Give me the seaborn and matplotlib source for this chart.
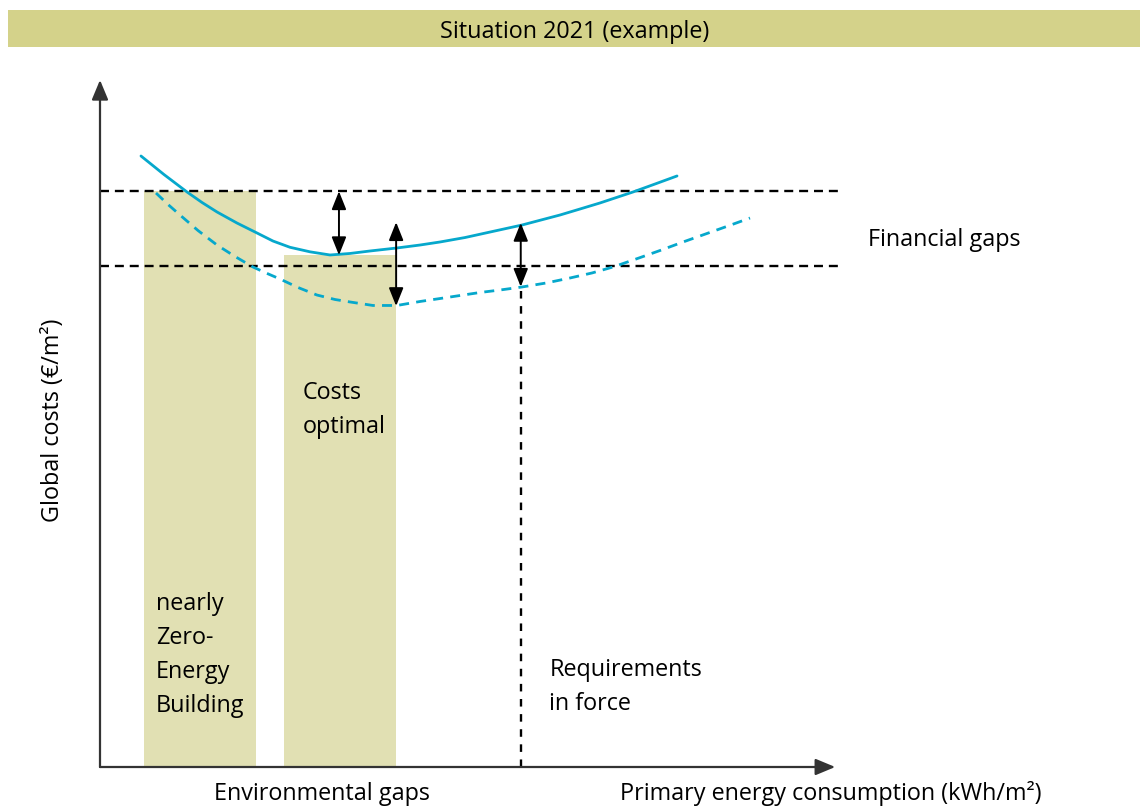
import numpy as np
import pandas as pd
import matplotlib
matplotlib.use('Agg')
import matplotlib.pyplot as plt
from matplotlib.patches import Rectangle
import seaborn as sns

# Cost-optimal vs nZEB schematic, situation 2021

# x = primary energy consumption, y = global costs (arbitrary units, 0-100)
solid_x = [5.59, 8.73, 11.87, 13.92, 15.96, 18.69, 21.42, 23.60, 25.92, 28.65, 31.38, 34.11, 36.83,
           40.52, 43.66, 46.38, 49.80, 53.21, 57.57, 62.76, 65.48, 68.21, 72.72, 75.72, 78.72]
solid_y = [88.94, 86.24, 83.70, 82.17, 80.79, 79.18, 77.73, 76.56, 75.65, 74.99, 74.53, 74.75, 75.11,
           75.55, 75.98, 76.42, 77.07, 77.87, 78.89, 80.35, 81.22, 82.10, 83.70, 84.86, 86.03]

dashed_x = [7.64, 9.28, 10.91, 13.37, 15.96, 18.42, 20.87, 22.65, 24.56, 27.01, 29.60, 32.06, 34.11,
            37.24, 40.52, 43.66, 46.38, 49.11, 51.84, 54.57, 57.57, 60.85, 64.12, 67.12, 69.99,
            73.12, 76.40, 79.54, 82.81, 85.68, 88.68]
dashed_y = [83.55, 81.88, 80.35, 78.09, 75.98, 74.31, 72.78, 71.91, 71.03, 69.80, 68.70, 68.05, 67.69,
            67.18, 67.18, 67.76, 68.19, 68.63, 69.07, 69.43, 69.87, 70.45, 71.18, 71.91, 72.78,
            73.94, 75.18, 76.42, 77.66, 78.75, 79.91]

bar_left = [6.0, 25.1]
bar_width = [15.3, 15.3]
bar_top = [83.8, 74.5]
bar_labels = ['nearly\nZero-\nEnergy\nBuilding', 'Costs\noptimal']

gap_levels = [83.8, 72.9]          # horizontal dashed lines
gap_arrows_x = [32.6, 40.4, 57.4]
gap_arrows_top = [83.8, 79.3, 79.2]
gap_arrows_bottom = [74.5, 67.1, 69.9]
requirement_x = 57.4

title = 'Situation 2021 (example)'

sns.set_theme(style='white')
plt.rcParams['font.family'] = ['Open Sans', 'DejaVu Sans']
plt.rcParams['text.color'] = 'black'

cyan = '#06a8cc'
band = '#d4d28a'
barc = '#e1e0b3'
fs = 16.8
ls_text = 1.56

fig = plt.figure(figsize=(11.44, 8.07), dpi=100)
ax = fig.add_axes([0, 0, 1, 1])

# title band
ax.add_patch(Rectangle((-12.6, 104.8), 154.5, 5.4, color=band, lw=0, zorder=0))
ax.text(64.7, 107.0, title, ha='center', va='center', fontsize=fs)

# bars
ax.bar(bar_left, bar_top, width=bar_width, align='edge', color=barc, lw=0, zorder=1)

# gap levels
for lev in gap_levels:
    ax.plot([0, 101.2], [lev, lev], color='black', lw=1.7, ls=(0, (3.8, 2.5)), zorder=2)

# cost curves
df_s = pd.DataFrame({'x': solid_x, 'y': solid_y})
df_d = pd.DataFrame({'x': dashed_x, 'y': dashed_y})
sns.lineplot(data=df_s, x='x', y='y', ax=ax, color=cyan, lw=2.0, sort=False, zorder=3)
sns.lineplot(data=df_d, x='x', y='y', ax=ax, color=cyan, lw=2.0, sort=False, zorder=3,
             linestyle=(0, (3.6, 2.6)))

# requirements in force
ax.plot([requirement_x, requirement_x], [0, gap_arrows_bottom[2]], color='black', lw=1.7,
        ls=(0, (3.2, 3.2)), zorder=2)

# financial gap arrows
for gx, gt, gb in zip(gap_arrows_x, gap_arrows_top, gap_arrows_bottom):
    ax.annotate('', xy=(gx, gt), xytext=(gx, gb),
                arrowprops=dict(arrowstyle='<|-|>,head_length=0.55,head_width=0.22',
                                mutation_scale=20, lw=1.4, color='black',
                                shrinkA=0, shrinkB=0), zorder=4)

# axes arrows
ax.annotate('', xy=(0, 100), xytext=(0, 0),
            arrowprops=dict(arrowstyle='-|>,head_length=0.6,head_width=0.25',
                            mutation_scale=20, lw=1.6, color='#333333',
                            shrinkA=0, shrinkB=0), zorder=5)
ax.annotate('', xy=(100.3, 0), xytext=(0, 0),
            arrowprops=dict(arrowstyle='-|>,head_length=0.6,head_width=0.25',
                            mutation_scale=20, lw=1.6, color='#333333',
                            shrinkA=0, shrinkB=0), zorder=5)

# labels
ax.text(7.6, 16.35, bar_labels[0], ha='left', va='center', fontsize=fs, linespacing=ls_text)
ax.text(27.6, 52.0, bar_labels[1], ha='left', va='center', fontsize=fs, linespacing=ls_text)
ax.text(61.3, 11.7, 'Requirements\nin force', ha='left', va='center', fontsize=fs, linespacing=ls_text)
ax.text(104.8, 76.7, 'Financial gaps', ha='left', va='center', fontsize=fs)
ax.text(-6.4, 50.5, 'Global costs (€/m²)', ha='center', va='center', rotation=90, fontsize=fs)
ax.text(30.3, -3.9, 'Environmental gaps', ha='center', va='center', fontsize=fs)
ax.text(99.7, -3.9, 'Primary energy consumption (kWh/m²)', ha='center', va='center', fontsize=fs)

ax.set_xlim(-100 / 7.33, (1144 - 100) / 7.33)
ax.set_ylim(-(807 - 767) / 6.87, 767 / 6.87)
ax.axis('off')

fig.savefig('out.png', dpi=100)
